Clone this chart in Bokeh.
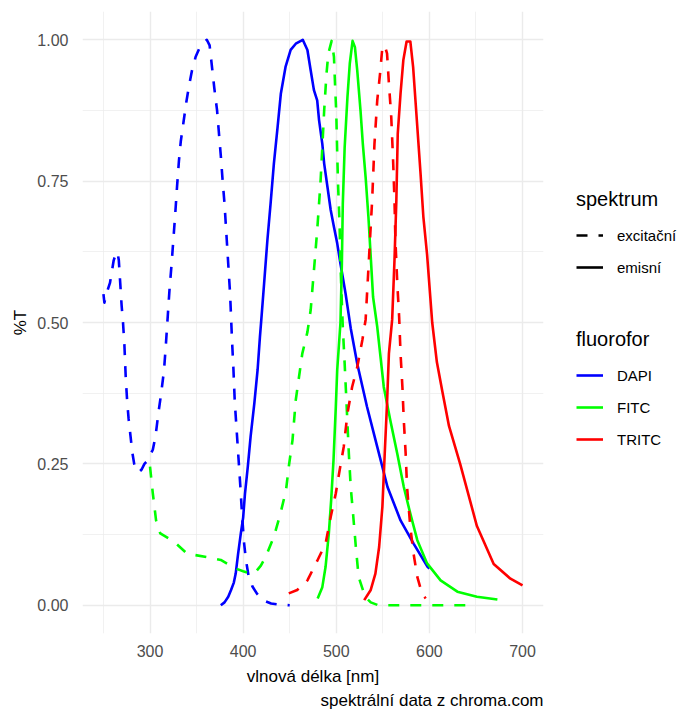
from bokeh.plotting import figure
from bokeh.layouts import row
from bokeh.models import FixedTicker, Legend, LegendItem, Title, Range1d
from bokeh.embed import file_html
from bokeh.resources import INLINE

# ---- data ----
dapi_ex_nm = [250, 251, 253, 255, 257, 259, 261, 263, 265, 266.5, 268, 269.5, 271, 272.5, 274, 275.5, 277, 279, 281, 283, 285,
              288, 291, 294, 297, 300, 303, 306, 309, 312, 315, 317, 319, 321, 323, 325, 327, 329, 331, 333, 336, 339, 342,
              345, 349, 353, 357, 361, 364, 366, 369, 372, 374, 376, 378, 380, 381.5, 383, 384.5, 386, 387, 388, 389.5, 391,
              393, 395, 397, 399, 401, 403, 406, 410, 415, 421, 430, 440, 450]
dapi_ex_val = [0.55, 0.535, 0.55, 0.56, 0.57, 0.59, 0.61, 0.62, 0.625, 0.61, 0.57, 0.53, 0.50, 0.46, 0.40, 0.36, 0.33, 0.30, 0.27,
               0.25, 0.24, 0.235, 0.24, 0.25, 0.255, 0.265, 0.275, 0.30, 0.34, 0.375, 0.415, 0.46, 0.51, 0.56, 0.60, 0.645,
               0.69, 0.74, 0.785, 0.82, 0.855, 0.89, 0.92, 0.945, 0.97, 0.985, 0.995, 1.0, 0.99, 0.96, 0.915, 0.875, 0.835,
               0.795, 0.75, 0.71, 0.67, 0.63, 0.59, 0.55, 0.51, 0.47, 0.42, 0.36, 0.31, 0.26, 0.21, 0.155, 0.11, 0.08, 0.05,
               0.033, 0.02, 0.009, 0.003, 0.001, 0.0]

dapi_em_nm = [376, 380, 384, 387, 390, 392, 394.5, 397.5, 400, 402, 405, 408, 412, 415.5, 418, 419.5, 422.5, 426, 429.5, 433,
              437, 440.5, 445.5, 451, 456.5, 462, 464, 469, 472.5, 476, 479.5, 481.5, 485, 487, 490.5, 494, 497.5, 501, 504.5,
              510, 515.5, 522.5, 533, 544, 555, 569, 583, 598, 600]
dapi_em_val = [0.0, 0.005, 0.015, 0.027, 0.04, 0.056, 0.09, 0.127, 0.155, 0.198, 0.245, 0.298, 0.357, 0.416, 0.474, 0.505,
               0.569, 0.645, 0.711, 0.781, 0.846, 0.905, 0.952, 0.982, 0.993, 0.998, 1.0, 0.982, 0.946, 0.911, 0.893, 0.858,
               0.816, 0.781, 0.74, 0.699, 0.669, 0.64, 0.604, 0.551, 0.49, 0.427, 0.351, 0.28, 0.209, 0.15, 0.109, 0.068, 0.065]

fitc_ex_nm = [300, 303, 306.5, 311, 326, 340, 362, 376, 392, 400, 408, 413.5, 419, 424, 433, 440, 446, 449, 453, 456.5, 460,
              463.5, 469, 472.5, 476, 479.5, 483, 485, 487, 489.5, 491.5, 495, 497.5, 498.5, 500, 501, 502, 503.5, 504.5, 506,
              507, 509, 511, 513.5, 515.5, 518, 521, 524, 531, 537, 545, 600, 650]
fitc_ex_val = [0.245, 0.198, 0.15, 0.127, 0.112, 0.091, 0.085, 0.08, 0.065, 0.06, 0.056, 0.059, 0.07, 0.085, 0.121, 0.162,
               0.203, 0.245, 0.292, 0.363, 0.404, 0.445, 0.483, 0.522, 0.592, 0.663, 0.746, 0.81, 0.875, 0.94, 0.976, 0.998,
               0.97, 0.928, 0.87, 0.799, 0.74, 0.675, 0.604, 0.533, 0.492, 0.427, 0.357, 0.268, 0.209, 0.162, 0.103, 0.05,
               0.015, 0.005, 0.0, 0.0, 0.0]

fitc_em_nm = [480, 485, 488.5, 492, 494.5, 497, 499.5, 501, 504.5, 506, 507, 509, 512, 514.5, 517.5, 520, 522.5, 526, 528.5,
              531.5, 534.5, 537, 539.5, 544, 551, 558, 565.5, 572.5, 579.5, 587, 597.5, 612, 630, 651, 673]
fitc_em_val = [0.012, 0.032, 0.068, 0.127, 0.186, 0.256, 0.351, 0.416, 0.5, 0.604, 0.71, 0.81, 0.899, 0.958, 0.998, 0.987,
               0.946, 0.875, 0.816, 0.757, 0.687, 0.616, 0.545, 0.492, 0.386, 0.327, 0.268, 0.209, 0.162, 0.115, 0.074,
               0.044, 0.024, 0.015, 0.01]

tritc_ex_nm = [449, 458, 469, 480, 488.5, 494, 499.5, 503, 508, 512, 517, 522.5, 528, 531.5, 535, 538.5, 541, 544, 547, 549.5,
               552, 554.5, 556.5, 559, 561, 562.5, 563.5, 565.5, 567.5, 569, 571, 572.5, 574.5, 576, 579.5, 583, 587, 592, 596]
tritc_ex_val = [0.021, 0.027, 0.044, 0.08, 0.109, 0.156, 0.198, 0.233, 0.28, 0.339, 0.386, 0.421, 0.469, 0.505, 0.61, 0.716,
                0.816, 0.893, 0.94, 0.987, 0.99, 0.976, 0.923, 0.864, 0.787, 0.716, 0.645, 0.569, 0.51, 0.445, 0.386, 0.327,
                0.268, 0.209, 0.138, 0.091, 0.05, 0.021, 0.012]

tritc_em_nm = [530, 537, 542, 546, 549.5, 552, 554.5, 556.5, 560, 562.5, 564.5, 566, 569, 572, 575.5, 579.5, 582.5, 585, 587.5,
               590.5, 593.5, 597.5, 603, 608, 614, 621, 633, 651, 669, 687, 700]
tritc_em_val = [0.009, 0.027, 0.056, 0.103, 0.174, 0.268, 0.357, 0.445, 0.505, 0.61, 0.716, 0.834, 0.905, 0.964, 0.997, 0.997,
                0.952, 0.893, 0.834, 0.763, 0.687, 0.62, 0.50, 0.43, 0.377, 0.317, 0.25, 0.14, 0.073, 0.047, 0.035]

fluorophores = ["DAPI", "FITC", "TRITC"]
colors = ["#0000FF", "#00FF00", "#FF0000"]
spectrum_labels = ["excitační", "emisní"]

x_ticks = [300, 400, 500, 600, 700]
x_minor = [250, 350, 450, 550, 650]
y_ticks = [0, 0.25, 0.5, 0.75, 1.0]
y_minor = [0.125, 0.375, 0.625, 0.875]
y_tick_labels = ["0.00", "0.25", "0.50", "0.75", "1.00"]

FONT = "Liberation Sans"
LW = 2.6
DASH = "11 11"

p = figure(frame_width=461, frame_height=622,
           x_range=Range1d(227.5, 722.5), y_range=Range1d(-0.05, 1.05),
           output_backend="svg", toolbar_location=None,
           min_border_left=82, min_border_right=2, min_border_top=11, min_border_bottom=60,
           background_fill_color="white", border_fill_color="white", outline_line_color=None)

p.xaxis.ticker = FixedTicker(ticks=x_ticks, minor_ticks=x_minor)
p.yaxis.ticker = FixedTicker(ticks=y_ticks, minor_ticks=y_minor)
p.yaxis.major_label_overrides = {t: l for t, l in zip(y_ticks, y_tick_labels)}

for ax in (p.xaxis[0], p.yaxis[0]):
    ax.axis_line_color = None
    ax.major_tick_line_color = None
    ax.minor_tick_line_color = None
    ax.major_tick_out = 0
    ax.major_tick_in = 0
    ax.major_label_text_font = FONT
    ax.major_label_text_font_size = "16px"
    ax.major_label_text_color = "#4D4D4D"
    ax.axis_label_text_font = FONT
    ax.axis_label_text_font_size = "17px"
    ax.axis_label_text_font_style = "normal"
    ax.axis_label_text_color = "black"

p.xaxis.axis_label = "vlnová délka [nm]"
p.yaxis.axis_label = "%T"
p.xaxis.major_label_standoff = 7
p.xaxis.axis_label_standoff = 7
p.yaxis.major_label_standoff = 10
p.yaxis.axis_label_standoff = 4

for g in (p.xgrid[0], p.ygrid[0]):
    g.grid_line_color = "#EBEBEB"
    g.grid_line_width = 1.4
    g.minor_grid_line_color = "#EBEBEB"
    g.minor_grid_line_width = 0.7

series = [
    (dapi_ex_nm, dapi_ex_val, colors[0], DASH),
    (dapi_em_nm, dapi_em_val, colors[0], "solid"),
    (fitc_ex_nm, fitc_ex_val, colors[1], DASH),
    (fitc_em_nm, fitc_em_val, colors[1], "solid"),
    (tritc_ex_nm, tritc_ex_val, colors[2], DASH),
    (tritc_em_nm, tritc_em_val, colors[2], "solid"),
]
for xs, ys, c, d in series:
    p.line(xs, ys, line_color=c, line_width=LW, line_dash=d, line_join="round")

cap = Title(text="spektrální data z chroma.com", align="right", text_font=FONT,
            text_font_size="17px", text_font_style="normal", text_color="black", standoff=0)
p.add_layout(cap, "below")

# ---- legend panel (separate figure on the right) ----
# its ranges keep the key renderers' data out of view; only the legend shows
lf = figure(width=132, height=705, x_range=Range1d(0, 1), y_range=Range1d(0, 1),
            x_axis_location=None, y_axis_location=None,
            output_backend="svg", toolbar_location=None,
            min_border_left=0, min_border_right=0, min_border_top=0, min_border_bottom=0,
            background_fill_color="white", border_fill_color="white", outline_line_color=None)
lf.grid.grid_line_color = None

r_ex = lf.line(fitc_ex_nm, fitc_ex_val, line_color="black", line_width=LW, line_dash=DASH)
r_em = lf.line(fitc_em_nm, fitc_em_val, line_color="black", line_width=LW)
r_cols = [lf.line(xs, ys, line_color=c, line_width=LW)
          for (xs, ys), c in zip([(dapi_em_nm, dapi_em_val), (fitc_em_nm, fitc_em_val), (tritc_em_nm, tritc_em_val)], colors)]


def style_legend(leg):
    leg.glyph_width = 27
    leg.glyph_height = 20
    leg.label_height = 20
    leg.label_standoff = 14
    leg.spacing = 12
    leg.padding = 0
    leg.margin = 0
    leg.border_line_color = None
    leg.background_fill_alpha = 0
    leg.title_text_font = FONT
    leg.title_text_font_size = "20px"
    leg.title_text_font_style = "normal"
    leg.title_text_color = "black"
    leg.title_standoff = 14
    leg.label_text_font = FONT
    leg.label_text_font_size = "15px"
    leg.label_text_color = "black"


leg1 = Legend(items=[LegendItem(label=spectrum_labels[0], renderers=[r_ex]),
                     LegendItem(label=spectrum_labels[1], renderers=[r_em])],
              title="spektrum", location=(31, 352))
leg2 = Legend(items=[LegendItem(label=f, renderers=[r]) for f, r in zip(fluorophores, r_cols)],
              title="fluorofor", location=(31, 180))
style_legend(leg1)
style_legend(leg2)
lf.add_layout(leg1)
lf.add_layout(leg2)

layout = row(p, lf, spacing=0)
open("out.html", "w").write(file_html(layout, INLINE))
